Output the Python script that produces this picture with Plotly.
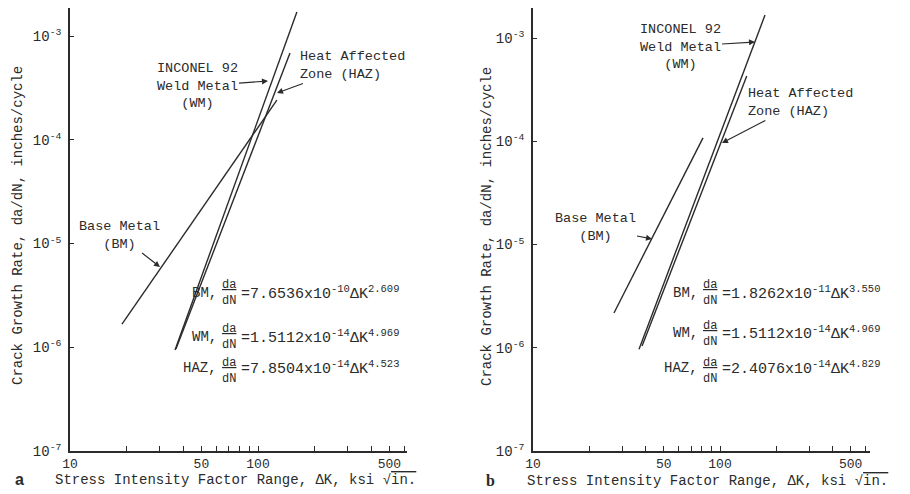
import plotly.graph_objects as go

# ---- data (end points of the straight log-log fits) ----
a_bm_x = [18.9, 126]
a_bm_y = [1.67e-6, 2.41e-4]
a_wm_x = [36.2, 161]
a_wm_y = [9.4e-7, 1.70e-3]
a_haz_x = [36.6, 148]
a_haz_y = [9.6e-7, 6.85e-4]

b_bm_x = [27.1, 81.1]
b_bm_y = [2.17e-6, 1.08e-4]
b_wm_x = [36.9, 174]
b_wm_y = [9.7e-7, 1.67e-3]
b_haz_x = [38.3, 139]
b_haz_y = [1.04e-6, 4.28e-4]

x_major = [10, 50, 100, 500]
x_major_text = ["10", "50", "100", "500"]
x_minor = [20, 30, 40, 60, 70, 80, 90, 200, 300, 400, 600]
y_tickvals = [1e-7, 1e-6, 1e-5, 1e-4, 1e-3]
y_ticktext = ["10<sup>-7</sup>", "10<sup>-6</sup>", "10<sup>-5</sup>", "10<sup>-4</sup>", "10<sup>-3</sup>"]

eq_a = [("BM,", "=7.6536x10<sup>-10</sup>ΔK<sup>2.609</sup>"),
        ("WM,", "=1.5112x10<sup>-14</sup>ΔK<sup>4.969</sup>"),
        ("HAZ,", "=7.8504x10<sup>-14</sup>ΔK<sup>4.523</sup>")]
eq_b = [("BM,", "=1.8262x10<sup>-11</sup>ΔK<sup>3.550</sup>"),
        ("WM,", "=1.5112x10<sup>-14</sup>ΔK<sup>4.969</sup>"),
        ("HAZ,", "=2.4076x10<sup>-14</sup>ΔK<sup>4.829</sup>")]

# the page body has an 8px margin, so the figure is drawn 8px in from the corner
OFF = 8
W, H = 910 - OFF, 494 - OFF
MONO = "Liberation Mono"
INK = "#2b2b2b"
LBL = 13.5

def px(x):
    return (x - OFF) / W

def py(y):
    return 1 - (y - OFF) / H

fig = go.Figure()
line_style = dict(color=INK, width=1.4)
for xs, ys in [(a_bm_x, a_bm_y), (a_wm_x, a_wm_y), (a_haz_x, a_haz_y)]:
    fig.add_trace(go.Scatter(x=xs, y=ys, mode="lines", line=line_style,
                             xaxis="x", yaxis="y", showlegend=False, hoverinfo="skip"))
for xs, ys in [(b_bm_x, b_bm_y), (b_wm_x, b_wm_y), (b_haz_x, b_haz_y)]:
    fig.add_trace(go.Scatter(x=xs, y=ys, mode="lines", line=line_style,
                             xaxis="x2", yaxis="y2", showlegend=False, hoverinfo="skip"))

xa = dict(type="log", tickmode="array", tickvals=x_major, ticktext=x_major_text,
          ticks="inside", ticklen=5, tickwidth=1, tickcolor=INK,
          minor=dict(tickmode="array", tickvals=x_minor, ticks="inside", ticklen=5,
                     tickwidth=1, tickcolor=INK, showgrid=False),
          showline=True, linecolor=INK, linewidth=1.6, showgrid=False, zeroline=False,
          automargin=False, tickfont=dict(family=MONO, size=13, color=INK))
ya = dict(type="log", tickmode="array", tickvals=y_tickvals, ticktext=y_ticktext,
          ticks="inside", ticklen=4, tickwidth=1, tickcolor=INK, ticklabelstandoff=4,
          showline=True, linecolor=INK, linewidth=1.6, showgrid=False, zeroline=False,
          automargin=False, tickfont=dict(family=MONO, size=14, color=INK))

fig.update_layout(
    template="none",
    width=W, height=H, margin=dict(l=0, r=0, t=0, b=0, autoexpand=False),
    paper_bgcolor="white", plot_bgcolor="white",
    xaxis=dict(xa, domain=[px(70), px(407)], range=[1, 2.7926], anchor="y"),
    yaxis=dict(ya, domain=[py(451), 1], range=[-7, -2.730], anchor="x"),
    xaxis2=dict(xa, domain=[px(533), px(870)], range=[1, 2.8021], anchor="y2"),
    yaxis2=dict(ya, domain=[py(451), 1], range=[-7, -2.709], anchor="x2"),
)

ann = []

def text(t, x, y, anchor="center", size=14, family=MONO, **kw):
    ann.append(dict(text=t, x=px(x), y=py(y), xref="paper", yref="paper",
                    xanchor=anchor, yanchor="middle", showarrow=False,
                    font=dict(family=family, size=size, color=INK), **kw))

def arrow_label(t, center, head, align="center", size=LBL):
    ann.append(dict(text=t, x=px(head[0]), y=py(head[1]), xref="paper", yref="paper",
                    ax=center[0] - head[0], ay=center[1] - head[1], showarrow=True,
                    xanchor="center", yanchor="middle", align=align,
                    arrowhead=2, arrowsize=1, arrowwidth=1.2, arrowcolor=INK, standoff=0,
                    font=dict(family=MONO, size=size, color=INK)))

# panel a labels
arrow_label("INCONEL 92<br>Weld Metal<br>(WM)", (197, 86), (268, 81))
arrow_label("Heat Affected<br>Zone (HAZ)", (352, 65.5), (277, 93), align="left")
arrow_label("Base Metal<br>(BM)", (119, 235), (160, 267))

# panel b labels
arrow_label("INCONEL 92<br>Weld Metal<br>(WM)", (680, 46.5), (755, 42))
arrow_label("Heat Affected<br>Zone (HAZ)", (800, 102.5), (722, 143), align="left")
arrow_label("Base Metal<br>(BM)", (595, 227.5), (652, 239))

# equations: prefix, stacked da/dN fraction, right-hand side
def equations(eqs, rows, x_frac):
    for (pre, rest), (ym, yfrac) in zip(eqs, rows):
        text(pre, x_frac - 10, ym, "right", size=14)
        text("<u>da</u><br>dN", x_frac, yfrac, "center", size=12)
        text(rest, x_frac + 10, ym, "left", size=15)

equations(eq_a, [(293, 293), (337, 336.5), (368, 370.5)], 229)
equations(eq_b, [(293, 293), (333, 334), (368, 370.5)], 710)

# axis titles and panel letters
ytitle = "Crack Growth Rate, da/dN, inches/cycle"
xtitle = "Stress Intensity Factor Range, ΔK, ksi √<span style='text-decoration:overline'>in.</span>"
text(ytitle, 18, 226, textangle=-90)
text(ytitle, 487, 226, textangle=-90)
text(xtitle, 236, 480)
text(xtitle, 707, 481)
text("<b>a</b>", 19, 479, size=16, family="Liberation Sans")
text("<b>b</b>", 490, 480, size=16, family="Liberation Serif")

fig.update_layout(annotations=ann)
fig.write_html("out.html")
